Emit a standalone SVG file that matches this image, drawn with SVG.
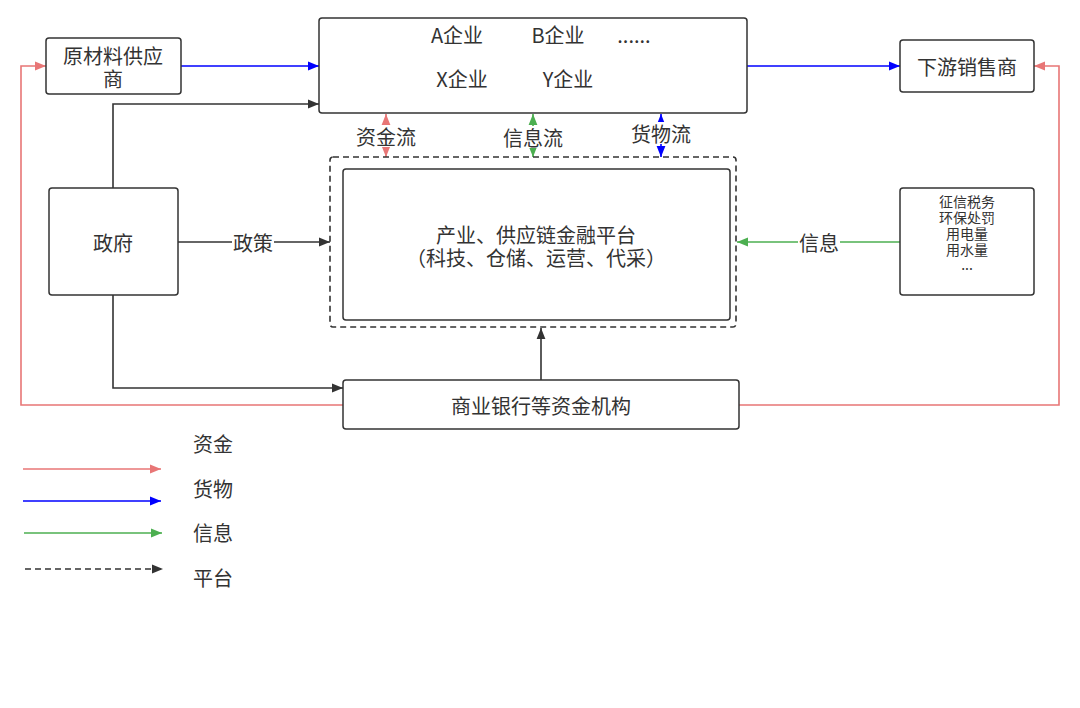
<svg xmlns="http://www.w3.org/2000/svg" width="1080" height="708" viewBox="0 0 1080 708">
<style>
.box{fill:#fff;stroke:#333;stroke-width:1.5}
.t{font-family:"Noto Sans CJK SC","Noto Sans",sans-serif;fill:#333;text-anchor:middle;dominant-baseline:central}
.f18{font-size:20px}
.f13{font-size:14px}
.r{fill:none;stroke:#e87676;stroke-width:1.6}
.b{fill:none;stroke:#0000ff;stroke-width:1.6}
.g{fill:none;stroke:#4caf50;stroke-width:1.6}
.k{fill:none;stroke:#333;stroke-width:1.6}
.d{fill:none;stroke:#333;stroke-width:1.6;stroke-dasharray:6 4}
</style>
<defs>
<marker id="mr" viewBox="0 0 10 10" refX="10" refY="5" markerWidth="11" markerHeight="11" markerUnits="userSpaceOnUse" orient="auto-start-reverse"><path d="M0,1 L10,5 L0,9 z" fill="#e87676"/></marker>
<marker id="mb" viewBox="0 0 10 10" refX="10" refY="5" markerWidth="11" markerHeight="11" markerUnits="userSpaceOnUse" orient="auto-start-reverse"><path d="M0,1 L10,5 L0,9 z" fill="#0000ff"/></marker>
<marker id="mg" viewBox="0 0 10 10" refX="10" refY="5" markerWidth="11" markerHeight="11" markerUnits="userSpaceOnUse" orient="auto-start-reverse"><path d="M0,1 L10,5 L0,9 z" fill="#4caf50"/></marker>
<marker id="mk" viewBox="0 0 10 10" refX="10" refY="5" markerWidth="11" markerHeight="11" markerUnits="userSpaceOnUse" orient="auto-start-reverse"><path d="M0,1 L10,5 L0,9 z" fill="#333"/></marker>
</defs>
<rect width="1080" height="708" fill="#fff"/>

<g id="connectors">
<path class="b" d="M181,66 H319" marker-end="url(#mb)"/>
<path class="b" d="M747,66 H900" marker-end="url(#mb)"/>
<path class="r" d="M343,405 H21 V66 H46" marker-end="url(#mr)"/>
<path class="r" d="M739,405 H1059 V66 H1034" marker-end="url(#mr)"/>
<path class="k" d="M113,188 V104 H319" marker-end="url(#mk)"/>
<path class="k" d="M178,242 H330" marker-end="url(#mk)"/>
<path class="k" d="M113,295 V388 H343" marker-end="url(#mk)"/>
<path class="k" d="M541,380 V328" marker-end="url(#mk)"/>
<path class="g" d="M900,242 H737" marker-end="url(#mg)"/>
<path class="r" d="M386,114 V157" marker-start="url(#mr)" marker-end="url(#mr)"/>
<path class="g" d="M533,114 V157" marker-start="url(#mg)" marker-end="url(#mg)"/>
<path class="b" d="M661,114 V157" marker-start="url(#mb)" marker-end="url(#mb)"/>
<rect x="232" y="230" width="42" height="24" fill="#fff"/>
<text class="t f18" x="253" y="242">政策</text>
<rect x="798" y="230" width="42" height="24" fill="#fff"/>
<text class="t f18" x="819" y="242">信息</text>
<rect x="355" y="125" width="62" height="22" fill="#fff"/>
<text class="t f18" x="386" y="136">资金流</text>
<rect x="502" y="126" width="62" height="22" fill="#fff"/>
<text class="t f18" x="533" y="137">信息流</text>
<rect x="630" y="122" width="62" height="22" fill="#fff"/>
<text class="t f18" x="661" y="133">货物流</text>
</g>

<g id="supplier">
<rect class="box" x="46" y="38" width="135" height="56" rx="3"/>
<text class="t f18" x="113" y="55">原材料供应</text>
<text class="t f18" x="113" y="78">商</text>
</g>
<g id="enterprises">
<rect class="box" x="319" y="18" width="428" height="95" rx="3"/>
<text class="t f18" x="457" y="34">A企业</text>
<text class="t f18" x="558" y="34">B企业</text>
<text class="t f18" x="634" y="34">......</text>
<text class="t f18" x="462" y="78">X企业</text>
<text class="t f18" x="568" y="78">Y企业</text>
</g>
<g id="downstream">
<rect class="box" x="900" y="40" width="134" height="52" rx="3"/>
<text class="t f18" x="967" y="66">下游销售商</text>
</g>
<g id="government">
<rect class="box" x="49" y="188" width="129" height="107" rx="3"/>
<text class="t f18" x="113" y="242">政府</text>
</g>
<g id="platform">
<rect class="d" x="330" y="157" width="406" height="170" rx="3"/>
<rect class="box" x="343" y="169" width="387" height="151" rx="3"/>
<text class="t f18" x="536" y="234">产业、供应链金融平台</text>
<text class="t f18" x="536" y="257">（科技、仓储、运营、代采）</text>
</g>
<g id="info">
<rect class="box" x="900" y="188" width="134" height="107" rx="3"/>
<text class="t f13" x="967" y="201">征信税务</text>
<text class="t f13" x="967" y="217">环保处罚</text>
<text class="t f13" x="967" y="233">用电量</text>
<text class="t f13" x="967" y="249">用水量</text>
<text class="t f13" x="967" y="264">...</text>
</g>
<g id="bank">
<rect class="box" x="343" y="380" width="396" height="49" rx="3"/>
<text class="t f18" x="541" y="405">商业银行等资金机构</text>
</g>

<g id="legend">
<path class="r" d="M23,469 H161" marker-end="url(#mr)"/>
<path class="b" d="M23,501 H161" marker-end="url(#mb)"/>
<path class="g" d="M24,533 H162" marker-end="url(#mg)"/>
<path class="d" d="M25,569 H163" marker-end="url(#mk)"/>
<text class="t f18" x="213" y="443">资金</text>
<text class="t f18" x="213" y="488">货物</text>
<text class="t f18" x="213" y="532">信息</text>
<text class="t f18" x="213" y="577">平台</text>
</g>
</svg>
